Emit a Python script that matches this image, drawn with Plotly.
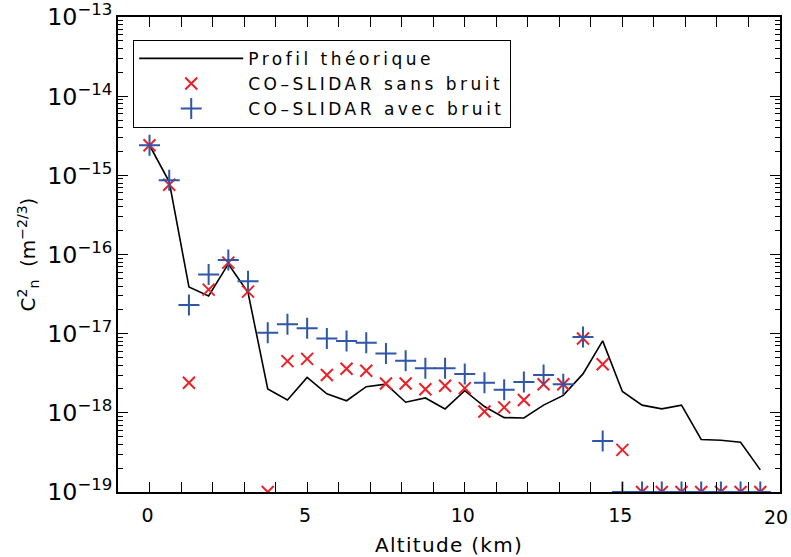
import plotly.graph_objects as go

# altitude of the retrieved layers (km)
altitude = [0, 0.625, 1.25, 1.875, 2.5, 3.125, 3.75, 4.375, 5, 5.625, 6.25, 6.875,
            7.5, 8.125, 8.75, 9.375, 10, 10.625, 11.25, 11.875, 12.5, 13.125, 13.75,
            14.375, 15, 15.625, 16.25, 16.875, 17.5, 18.125, 18.75, 19.375]

profil = [2.4e-15, 8.3e-16, 3.9e-17, 3.0e-17, 7.6e-17, 3.3e-17, 2.0e-18, 1.45e-18,
          2.8e-18, 1.74e-18, 1.42e-18, 2.14e-18, 2.3e-18, 1.36e-18, 1.54e-18, 1.12e-18,
          1.9e-18, 1.2e-18, 8.7e-19, 8.6e-19, 1.25e-18, 1.66e-18, 3.1e-18, 8.1e-18,
          1.86e-18, 1.25e-18, 1.12e-18, 1.25e-18, 4.6e-19, 4.5e-19, 4.25e-19, 1.9e-19]

sans_bruit = [2.4e-15, 7.6e-16, 2.4e-18, 3.6e-17, 7.9e-17, 3.4e-17, 1e-19, 4.5e-18,
              4.8e-18, 3.0e-18, 3.6e-18, 3.4e-18, 2.35e-18, 2.35e-18, 1.98e-18, 2.2e-18,
              2.05e-18, 1.04e-18, 1.17e-18, 1.45e-18, 2.3e-18, 2.3e-18, 8.7e-18, 4.1e-18,
              3.4e-19, 1e-19, 1e-19, 1e-19, 1e-19, 1e-19, 1e-19, 1e-19]

avec_bruit = [2.4e-15, 8.7e-16, 2.3e-17, 5.6e-17, 8.5e-17, 4.6e-17, 1.03e-17, 1.31e-17,
              1.17e-17, 8.7e-18, 8.1e-18, 7.7e-18, 5.6e-18, 4.55e-18, 3.65e-18, 3.65e-18,
              3.1e-18, 2.4e-18, 1.95e-18, 2.45e-18, 3.0e-18, 2.3e-18, 9.1e-18, 4.4e-19,
              1e-19, 1e-19, 1e-19, 1e-19, 1e-19, 1e-19, 1e-19, 1e-19]

x_ticks = [0, 5, 10, 15, 20]
decades = [-19, -18, -17, -16, -15, -14]
minor_vals = [d * 10.0 ** e for e in decades for d in range(2, 10)]

RED = "#ec2027"
BLUE = "#2f56a8"
FONT = "DejaVu Sans"


def spaced(txt, px):
    return '<span style="letter-spacing:%spx">%s</span>' % (px, txt)


fig = go.Figure()
fig.add_trace(go.Scatter(
    x=altitude, y=profil, mode="lines", name=spaced("Profil théorique", 3.5),
    line=dict(color="black", width=1.6)))
fig.add_trace(go.Scatter(
    x=altitude, y=sans_bruit, mode="markers", name=spaced("CO\u2013SLIDAR sans bruit", 3.5),
    marker=dict(symbol="x-thin", size=12, line=dict(color=RED, width=2))))
fig.add_trace(go.Scatter(
    x=altitude, y=avec_bruit, mode="markers", name=spaced("CO\u2013SLIDAR avec bruit", 3.5),
    marker=dict(symbol="cross-thin", size=15, line=dict(color=BLUE, width=2))))
# carrier for the minor-tick axis
fig.add_trace(go.Scatter(
    x=altitude, y=profil, yaxis="y2", mode="lines", opacity=0,
    showlegend=False, hoverinfo="skip", line=dict(width=0)))

axis_common = dict(
    showline=True, linecolor="black", linewidth=1.5, mirror="allticks",
    ticks="inside", ticklen=10, tickwidth=1, tickcolor="black",
    showgrid=False, zeroline=False, automargin=False, ticklabeloverflow="allow",
)

# plotly drops the label on the last tick at the frame corner, so that one is an annotation
x_labels = [str(v) for v in x_ticks[:-1]] + [""]

fig.update_layout(
    xaxis=dict(
        range=[-1, 20], tickmode="array", tickvals=x_ticks, ticktext=x_labels,
        ticklabelstandoff=5, ticklabelshift=-2,
        tickfont=dict(family=FONT, size=19, color="black"),
        minor=dict(ticks="inside", ticklen=5, tick0=0, dtick=1, tickcolor="black",
                   showgrid=False),
        title=dict(text=spaced("Altitude (km)", 1.3),
                   font=dict(family=FONT, size=20, color="black"), standoff=14),
        **axis_common),
    yaxis=dict(
        type="log", range=[-19.0005, -12.9995], dtick=1, exponentformat="power",
        tickfont=dict(family=FONT, size=19, color="black"),
        title=dict(text="C<sup>2</sup><sub>n</sub>  (m<sup>\u22122/3</sup>)",
                   font=dict(family=FONT, size=20, color="black"), standoff=6),
        **axis_common),
    yaxis2=dict(
        type="log", range=[-19.0005, -12.9995], overlaying="y", side="left",
        tickvals=minor_vals, showticklabels=False, ticks="inside", ticklen=5,
        tickwidth=1, tickcolor="black", mirror="ticks", showline=True,
        linecolor="black", linewidth=1.5, showgrid=False, zeroline=False,
        automargin=False),
    annotations=[dict(
        x=x_ticks[-1], xref="x", y=0, yref="paper", text=str(x_ticks[-1]),
        showarrow=False, xanchor="center", yanchor="middle", xshift=-4, yshift=-25,
        font=dict(family=FONT, size=19, color="black"))],
    width=811, height=557,
    margin=dict(l=118, r=31, t=17, b=65),
    paper_bgcolor="white", plot_bgcolor="white",
    font=dict(family=FONT, color="black"),
    legend=dict(x=0.023, y=0.952, xanchor="left", yanchor="top",
                bordercolor="black", borderwidth=1, bgcolor="white",
                itemwidth=104, tracegroupgap=0,
                font=dict(family=FONT, size=17, color="black")),
)

# drop the default page margin so the figure starts at the window corner
fig.write_html("out.html", config={"displayModeBar": False},
               post_script="document.body.style.margin='0px';"
                           "document.body.style.overflow='hidden';")
